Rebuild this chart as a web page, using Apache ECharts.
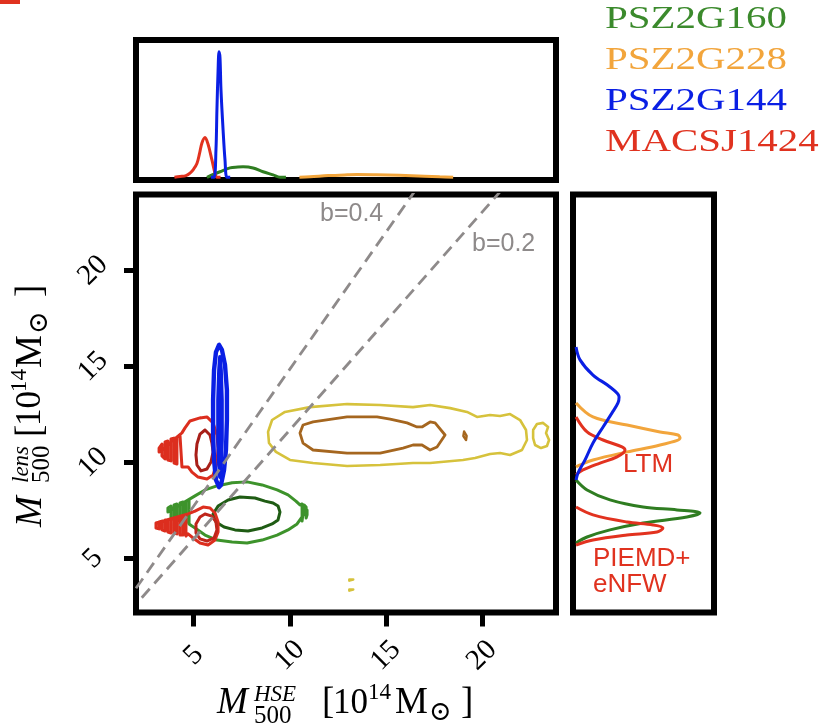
<!DOCTYPE html>
<html>
<head>
<meta charset="utf-8">
<script src="https://cdn.jsdelivr.net/npm/echarts@6/dist/echarts.min.js"></script>
<style>
  html, body { margin: 0; padding: 0; background: #ffffff; }
  #chart { width: 823px; height: 728px; }
</style>
</head>
<body>
<div id="chart"></div>
<script>
// ---- axis ticks (10^14 Msun) ----
const tickValues = [5, 10, 15, 20];

// ---- 2D posterior contours: [M500_HSE, M500_lens] ----
// MACSJ1424, LTM lens model
const macsLtmOuter = [[5.33,12.33],[5.69,12.38],[6.01,12.07],[6.21,11.44],[6.27,10.76],[6.21,9.98],[6.01,9.36],[5.69,9.15],[5.23,9.25],[4.91,9.51],[4.71,9.78],[4.39,9.78],
  [4.29,9.88],[4.29,11.39],[4.13,11.34],[4.13,9.93],[3.98,9.98],[3.98,11.28],[3.82,11.23],[3.82,10.09],[3.66,10.14],[3.66,11.13],[3.51,11.08],[3.51,10.19],[3.35,10.35],[3.35,10.97],[3.20,10.76],[3.20,10.55],
  [4.39,11.55],[4.55,11.81],[4.81,12.17]];
const macsLtmInner = [[5.59,11.70],[5.85,11.44],[5.95,11.02],[6.01,10.55],[5.90,10.04],[5.69,9.67],[5.38,9.57],[5.17,9.88],[5.12,10.40],[5.17,10.97],[5.33,11.49]];
// MACSJ1424, PIEMD+eNFW lens model
const macsPiemdOuter = [[5.07,7.48],[5.49,7.69],[5.85,7.64],[6.11,7.38],[6.27,6.91],[6.27,6.39],[6.11,5.97],[5.75,5.71],[5.33,5.82],[4.97,6.08],[4.71,6.29],
  [4.60,6.18],[4.60,7.22],[4.45,7.17],[4.45,6.23],[4.29,6.23],[4.29,7.17],[4.13,7.12],[4.13,6.29],[3.98,6.34],[3.98,7.12],[3.82,7.07],[3.82,6.34],[3.66,6.39],[3.66,7.02],[3.51,7.02],[3.51,6.44],[3.35,6.50],[3.35,6.96],[3.20,6.91],[3.20,6.55],[3.04,6.60],[3.04,6.86],[2.99,6.76],
  [4.71,7.33]];
const macsPiemdInner = [[5.59,7.33],[5.95,7.22],[6.16,6.91],[6.21,6.50],[6.06,6.08],[5.69,5.92],[5.33,6.03],[5.12,6.34],[5.12,6.81],[5.33,7.17]];
// PSZ2G144
const psz144Outer = [[6.32,16.13],[6.47,15.87],[6.63,15.09],[6.73,13.78],[6.73,12.22],[6.68,10.66],[6.58,9.62],[6.42,8.84],[6.32,8.73],[6.16,9.10],[6.06,10.14],[6.01,11.44],[6.01,13.26],[6.06,14.82],[6.16,15.76]];
const psz144Inner = [[6.37,15.50],[6.42,14.82],[6.47,13.26],[6.47,11.18],[6.42,9.88],[6.37,9.25],[6.32,9.88],[6.27,11.18],[6.27,13.26],[6.32,14.82]];
// PSZ2G160
const psz160Outer = [[5.07,8.27],[5.59,8.58],[6.21,8.79],[7.00,8.95],[7.78,9.00],[8.56,8.84],[9.34,8.58],[9.91,8.32],[10.32,8.00],[10.53,7.80],
  [10.64,7.85],[10.64,6.96],[10.74,7.02],[10.74,7.80],[10.85,7.69],[10.85,7.12],[10.90,7.28],[10.90,7.54],
  [10.38,6.81],[9.91,6.50],[9.34,6.23],[8.56,5.97],[7.78,5.82],[7.00,5.87],[6.21,5.97],[5.59,6.23],[5.07,6.60],
  [4.91,6.70],[4.76,6.81],[4.76,8.06],[4.60,8.00],[4.60,6.86],[4.45,6.91],[4.45,7.95],[4.29,7.90],[4.29,6.96],[4.13,7.02],[4.13,7.85],[3.98,7.80],[3.98,7.07],[3.82,7.12],[3.82,7.74],[3.66,7.64],[3.66,7.43]];
const psz160Inner = [[6.01,7.33],[6.27,7.74],[6.79,8.06],[7.41,8.21],[8.19,8.16],[8.71,8.00],[9.13,7.90],[9.39,7.74],[9.49,7.43],[9.39,7.02],[9.08,6.81],[8.56,6.60],[7.83,6.44],[7.15,6.50],[6.58,6.65],[6.16,6.91]];
// PSZ2G228
const psz228Outer = [[8.87,11.60],[9.08,12.22],[9.75,12.64],[11.05,12.89],[12.98,13.05],[14.70,13.00],[16.41,12.89],[17.30,13.00],[18.34,12.84],[19.22,12.64],[19.74,12.38],[20.42,12.48],[20.94,12.43],[21.46,12.53],[21.98,12.22],[22.29,11.70],[22.34,11.18],[22.08,10.66],[21.46,10.40],[20.94,10.50],[20.42,10.45],[19.64,10.24],[19.01,10.14],[17.30,9.98],[16.41,9.98],[14.70,9.88],[12.98,9.83],[11.21,9.98],[10.01,10.14],[9.28,10.56],[8.92,11.02]];
const psz228Blob = [[22.66,11.70],[22.86,12.01],[23.18,12.07],[23.44,11.86],[23.33,11.54],[23.49,11.18],[23.38,10.87],[23.07,10.76],[22.76,10.92],[22.66,11.28]];
const psz228SpeckA = [[13.10,3.92],[13.30,3.92],[13.30,3.86],[13.10,3.86]];
const psz228SpeckB = [[13.10,3.40],[13.30,3.40],[13.30,3.34],[13.10,3.34]];
const psz228Inner = [[10.53,11.54],[10.69,11.96],[11.21,12.12],[12.98,12.38],[14.54,12.38],[15.22,12.27],[16.10,12.07],[16.62,11.86],[16.88,11.86],[17.30,12.12],[17.56,12.07],[18.08,11.44],[17.66,10.82],[17.30,10.66],[16.88,10.92],[16.41,10.92],[15.89,10.76],[14.70,10.50],[12.98,10.50],[11.21,10.66],[10.69,11.02]];
const psz228Dot = [[19.07,11.62],[19.17,11.60],[19.20,11.39],[19.17,11.18],[19.07,11.16],[19.03,11.39]];

// ---- hydrostatic bias reference lines ----
const biasLabels = ['b=0.4', 'b=0.2'];
const biasLine04 = [[2.0,3.46],[16.76,24.5]];
const biasLine02 = [[2.30,2.97],[21.29,24.5]];

// ---- marginal posterior of M500_HSE: [M, density] ----
const topMacs = [[4.0,0],[4.29,0.005],[4.6,0.012],[4.81,0.03],[5.0,0.06],[5.17,0.10],[5.30,0.17],[5.43,0.25],[5.59,0.29],[5.75,0.24],[5.95,0.126],[6.11,0.03],[6.21,0],[6.4,0]];
const topPsz144 = [[5.9,0],[6.06,0],[6.16,0.20],[6.21,0.49],[6.27,0.78],[6.32,0.915],[6.37,0.87],[6.42,0.64],[6.53,0.345],[6.63,0.126],[6.73,0],[6.9,0]];
const topPsz160 = [[5.69,0],[6.37,0.04],[6.89,0.068],[7.30,0.074],[7.57,0.076],[8.09,0.068],[8.61,0.04],[9.13,0.017],[9.49,0],[9.8,0]];
const topPsz228 = [[10.5,0],[11.05,0.003],[12.0,0.012],[13.0,0.018],[13.5,0.02],[14.5,0.018],[15.7,0.014],[17.0,0.008],[17.8,0.003],[18.5,0]];

// ---- marginal posterior of M500_lens: [M, density] ----
const rightPsz144 = [[16.02,0],[15.35,0.029],[14.56,0.123],[13.94,0.246],[13.42,0.312],[13.11,0.304],[12.59,0.261],[11.86,0.196],[11.02,0.123],[10.14,0.065],[9.46,0.014],[9.10,0]];
const rightPsz228 = [[13.11,0],[12.38,0.123],[11.96,0.37],[11.60,0.609],[11.44,0.739],[11.28,0.754],[10.92,0.609],[10.56,0.37],[10.14,0.123],[9.88,0.03],[9.78,0]];
const rightMacsLtm = [[12.38,0],[11.60,0.08],[11.18,0.196],[10.82,0.333],[10.66,0.355],[10.30,0.297],[9.98,0.174],[9.62,0.05],[9.36,0]];
const rightPsz160 = [[9.10,0],[8.58,0.08],[8.06,0.246],[7.69,0.486],[7.54,0.732],[7.38,0.899],[7.17,0.804],[6.86,0.486],[6.50,0.246],[6.13,0.08],[5.82,0]];
const rightMacsPiemd = [[7.69,0],[7.28,0.123],[6.91,0.37],[6.76,0.558],[6.60,0.63],[6.39,0.587],[6.23,0.37],[5.97,0.123],[5.71,0]];

// ---- names ----
const clusterNames = ['PSZ2G160', 'PSZ2G228', 'PSZ2G144', 'MACSJ1424'];
const lensModels = ['LTM', 'PIEMD+', 'eNFW'];

// ---- colours ----
const C = {
  green: '#3d932b', greenDark: '#1f5c14', greenLegend: '#3b8a2c',
  orange: '#f2a53c', yellow: '#d6c23c', brown: '#a5661f',
  blue: '#0a1fe4', red: '#dc2e1e', redDark: '#a81f19', redLegend: '#e0321f',
  gray: '#8e8a8a'
};

const serif = '"Liberation Serif", "DejaVu Serif", serif';
const sans = '"Liberation Sans", Arial, sans-serif';

function closeLoop(pts) { return pts.concat([pts[0]]); }

function contour(pts, color, width) {
  return {
    type: 'line', xAxisIndex: 0, yAxisIndex: 0,
    data: closeLoop(pts), symbol: 'none', showSymbol: false,
    lineStyle: { color: color, width: width, join: 'round', cap: 'round' },
    silent: true, animation: false, z: 3
  };
}
function topCurve(pts, color) {
  return {
    type: 'line', xAxisIndex: 1, yAxisIndex: 1, data: pts,
    symbol: 'none', smooth: 0.35, lineStyle: { color: color, width: 3 },
    silent: true, animation: false, z: 3
  };
}
function rightCurve(pts, color) {
  return {
    type: 'line', xAxisIndex: 2, yAxisIndex: 2,
    data: pts.map(function (p) { return [p[1], p[0]]; }),
    symbol: 'none', smooth: 0.35, lineStyle: { color: color, width: 3 },
    silent: true, animation: false, z: 3
  };
}
function biasLine(pts) {
  return {
    type: 'line', xAxisIndex: 0, yAxisIndex: 0, data: pts, symbol: 'none',
    lineStyle: { color: C.gray, width: 2.8, type: [12, 7] },
    silent: true, animation: false, z: 5
  };
}

function txt(text, x, y, font, fill, extra) {
  const el = {
    type: 'text', x: x, y: y, silent: true,
    style: { text: text, font: font, fill: fill,
      textAlign: 'left', textVerticalAlign: 'middle', align: 'left', verticalAlign: 'middle' }
  };
  return Object.assign(el, extra || {});
}
function titlePieces(parts) {
  return parts.map(function (p) {
    return txt(p[0], p[1], p[2], (p[4] ? 'italic ' : '') + p[3] + 'px ' + serif, '#000');
  });
}

const xTitle = titlePieces([
  ['M', 0, 0, 37, true], ['HSE', 37, -9, 23, true], ['500', 37, 12.5, 25, false],
  ['[', 105, 0, 37, false], ['10', 116, 0, 35, false], ['14', 151, -11, 23, false], ['M', 178, 0, 37, false],
  ['\u2299', 212, 9.5, 27, false], [']', 244, 0, 37, false]
]);
const yTitle = titlePieces([
  ['M', 0, 0, 37, true], ['lens', 44, -9, 23, true], ['500', 44, 11, 25, false],
  ['[', 90, 0, 37, false], ['10', 101, 0, 35, false], ['14', 135, -11, 23, false], ['M', 159, 0, 37, false],
  ['\u2299', 193, 8.5, 27, false], [']', 230, 0, 37, false]
]);

const legendColors = [C.greenLegend, C.orange, C.blue, C.redLegend];
const legendY = [19.5, 60.5, 102, 143];
const legendEls = clusterNames.map(function (n, i) {
  return txt(n, 605, legendY[i], '31px ' + serif, legendColors[i], { scaleX: 1.32 });
});

const frame = { show: true, borderColor: '#000', borderWidth: 6, backgroundColor: '#fff', outerBoundsMode: 'none' };

const option = {
  backgroundColor: '#ffffff',
  animation: false,
  grid: [
    Object.assign({ left: 136, top: 194.5, width: 420, height: 418 }, frame),
    Object.assign({ left: 136, top: 40, width: 420, height: 140 }, frame),
    Object.assign({ left: 573, top: 194.5, width: 141, height: 418 }, frame)
  ],
  xAxis: [
    { type: 'value', gridIndex: 0, min: 2, max: 23.85,
      axisLine: { show: false }, splitLine: { show: false },
      axisTick: { show: true, length: 14, inside: false, customValues: tickValues, lineStyle: { color: '#000', width: 5 } },
      axisLabel: { show: true, customValues: tickValues, rotate: 45, margin: 43, align: 'center', verticalAlign: 'middle',
        fontFamily: serif, fontSize: 29, color: '#000' } },
    { type: 'value', gridIndex: 1, min: 2, max: 23.85, show: false, splitLine: { show: false } },
    { type: 'value', gridIndex: 2, min: -0.022, max: 1.0, show: false, splitLine: { show: false } }
  ],
  yAxis: [
    { type: 'value', gridIndex: 0, min: 2.2, max: 23.96,
      axisLine: { show: false }, splitLine: { show: false },
      axisTick: { show: true, length: 12, inside: false, customValues: tickValues, lineStyle: { color: '#000', width: 5 } },
      axisLabel: { show: true, customValues: tickValues, rotate: 45, margin: 43, align: 'center', verticalAlign: 'middle',
        fontFamily: serif, fontSize: 29, color: '#000' } },
    { type: 'value', gridIndex: 1, min: -0.02, max: 1.0, show: false, splitLine: { show: false } },
    { type: 'value', gridIndex: 2, min: 2.2, max: 23.96, show: false, splitLine: { show: false } }
  ],
  series: [
    contour(psz228Outer, C.yellow, 2.6),
    contour(psz228Blob, C.yellow, 2.6),
    contour(psz228SpeckA, C.yellow, 2.6),
    contour(psz228SpeckB, C.yellow, 2.6),
    contour(psz228Inner, C.brown, 2.8),
    contour(psz228Dot, C.brown, 2.4),
    contour(psz160Outer, C.green, 3),
    contour(psz160Inner, C.greenDark, 3),
    contour(macsPiemdOuter, C.red, 3),
    contour(macsPiemdInner, '#bf251b', 3),
    contour(macsLtmOuter, C.red, 3),
    contour(macsLtmInner, C.redDark, 3),
    contour(psz144Outer, C.blue, 4.4),
    contour(psz144Inner, C.blue, 3.8),
    biasLine(biasLine04),
    biasLine(biasLine02),
    topCurve(topPsz228, C.orange),
    topCurve(topPsz160, '#2f7d21'),
    topCurve(topMacs, '#e2321f'),
    topCurve(topPsz144, C.blue),
    rightCurve(rightPsz228, C.orange),
    rightCurve(rightPsz160, '#2f7d21'),
    rightCurve(rightMacsPiemd, '#e2321f'),
    rightCurve(rightMacsLtm, '#e2321f'),
    rightCurve(rightPsz144, C.blue)
  ],
  graphic: [
    { type: 'rect', shape: { x: 0, y: 0, width: 20, height: 4 }, style: { fill: C.redLegend }, silent: true },
    { type: 'group', x: 217, y: 703.5, children: xTitle, silent: true },
    { type: 'group', x: 31, y: 527, rotation: Math.PI / 2, children: yTitle, silent: true },
    txt(biasLabels[0], 320, 214, '25px ' + sans, C.gray, { z: 10 }),
    txt(biasLabels[1], 472, 244.5, '25px ' + sans, C.gray, { z: 10 }),
    txt(lensModels[0], 623, 464.5, '26px ' + sans, C.redLegend, { z: 10 }),
    txt(lensModels[1], 593, 558.5, '26px ' + sans, C.redLegend, { z: 10 }),
    txt(lensModels[2], 593, 584.5, '26px ' + sans, C.redLegend, { z: 10 })
  ].concat(legendEls)
};

const chart = echarts.init(document.getElementById('chart'), null, { renderer: 'canvas' });
chart.setOption(option);
</script>
</body>
</html>
